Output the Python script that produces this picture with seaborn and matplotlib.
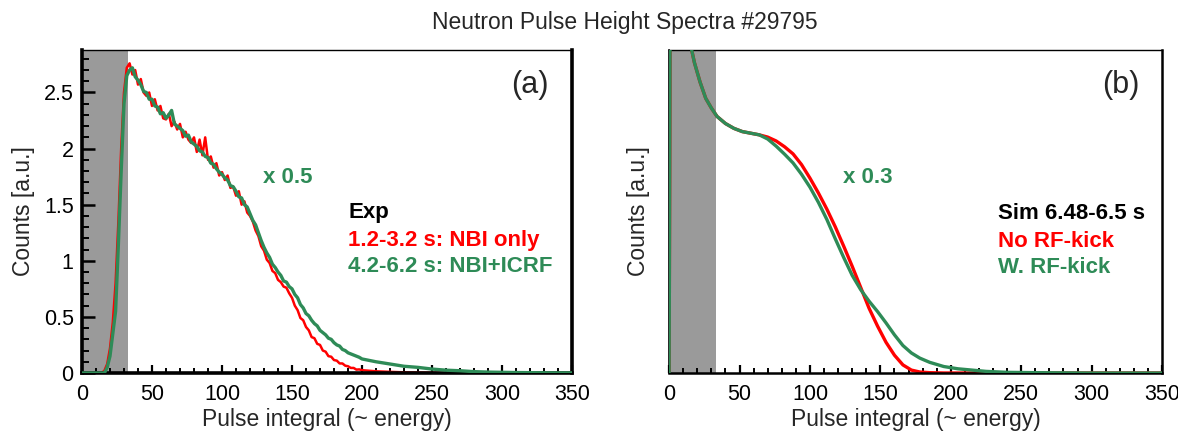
import numpy as np
import pandas as pd
import matplotlib
matplotlib.use("Agg")
import matplotlib.pyplot as plt
from matplotlib.ticker import MultipleLocator
import seaborn as sns

# ---- data ------------------------------------------------------------------
# (a) measured spectra, x grid: 0..198 step 2, then 200..350 step 10
exp_x = list(range(0, 200, 2)) + list(range(200, 351, 10))

nbi_only = [0, 0, 0, 0, 0, 0, 0, 0, 0.02, 0.08, 0.22, 0.45, 0.8, 1.35, 2.0, 2.5, 2.72, 2.76,
            2.66, 2.7, 2.57, 2.62, 2.5, 2.47, 2.5, 2.38, 2.44, 2.34, 2.38, 2.27, 2.26, 2.31,
            2.2, 2.24, 2.17, 2.22, 2.1, 2.15, 2.08, 2.05, 2.1, 1.97, 2.08, 1.94, 2.1, 1.9, 1.93,
            1.83, 1.87, 1.76, 1.79, 1.72, 1.76, 1.65, 1.66, 1.58, 1.62, 1.5, 1.53, 1.43, 1.4,
            1.35, 1.27, 1.22, 1.13, 1.09, 1.01, 0.98, 0.91, 0.89, 0.83, 0.81, 0.77, 0.76, 0.71,
            0.67, 0.6, 0.56, 0.49, 0.47, 0.41, 0.38, 0.32, 0.31, 0.26, 0.25, 0.2, 0.19, 0.15,
            0.145, 0.115, 0.11, 0.085, 0.085, 0.065, 0.06, 0.045, 0.045, 0.03, 0.032,
            0.025, 0.015, 0.01, 0.006, 0.004, 0.002, 0.001, 0.001, 0.001, 0, 0, 0, 0, 0, 0, 0]

nbi_icrf = [0, 0, 0, 0, 0, 0, 0, 0, 0, 0.05, 0.15, 0.35, 0.55, 1.15, 1.8, 2.4, 2.65, 2.7,
            2.72, 2.64, 2.61, 2.57, 2.51, 2.5, 2.44, 2.44, 2.38, 2.37, 2.31, 2.32, 2.27, 2.3,
            2.34, 2.22, 2.2, 2.18, 2.16, 2.11, 2.12, 2.06, 2.04, 2.02, 1.98, 1.97, 1.93, 1.92,
            1.87, 1.86, 1.82, 1.79, 1.77, 1.74, 1.72, 1.67, 1.66, 1.62, 1.57, 1.56, 1.5, 1.48,
            1.42, 1.36, 1.32, 1.25, 1.18, 1.12, 1.07, 1.03, 0.97, 0.94, 0.9, 0.87, 0.82, 0.81,
            0.77, 0.75, 0.7, 0.67, 0.61, 0.58, 0.53, 0.51, 0.47, 0.44, 0.42, 0.38, 0.36, 0.34,
            0.31, 0.3, 0.27, 0.25, 0.24, 0.21, 0.2, 0.18, 0.17, 0.16, 0.15, 0.14,
            0.125, 0.1, 0.08, 0.06, 0.05, 0.035, 0.025, 0.02, 0.012, 0.008, 0.006, 0.004, 0.003,
            0.002, 0.001, 0.001]

# (b) simulated spectra (arbitrary units, axis 0..1)
sim_x = [0, 1, 5, 10, 15, 18, 22, 26, 30, 34, 40, 46, 52, 58, 64, 70, 76, 82, 88, 94, 100,
         106, 112, 118, 124, 130, 136, 142, 148, 154, 160, 166, 172, 178, 185, 195, 205, 215,
         225, 240, 260, 300, 350]
no_rf_kick = [0, 1.5, 1.4, 1.2, 1.02, 0.96, 0.9, 0.85, 0.82, 0.794, 0.772, 0.757, 0.747, 0.742,
              0.737, 0.73, 0.718, 0.7, 0.678, 0.645, 0.603, 0.557, 0.507, 0.452, 0.392, 0.33,
              0.265, 0.2, 0.145, 0.095, 0.055, 0.025, 0.009, 0.003, 0.001, 0, 0, 0, 0, 0, 0, 0, 0]
w_rf_kick = [0, 1.5, 1.4, 1.2, 1.02, 0.96, 0.9, 0.85, 0.82, 0.794, 0.772, 0.757, 0.747, 0.742,
             0.737, 0.724, 0.702, 0.677, 0.65, 0.615, 0.575, 0.528, 0.475, 0.415, 0.357, 0.302,
             0.258, 0.222, 0.19, 0.155, 0.118, 0.085, 0.062, 0.046, 0.033, 0.02, 0.013, 0.009,
             0.005, 0.002, 0.001, 0, 0]

y_ticks_a = [0, 0.5, 1, 1.5, 2, 2.5]
y_ticklabels_a = ["0", "0.5", "1", "1.5", "2", "2.5"]
x_ticks = [0, 50, 100, 150, 200, 250, 300, 350]
cut_off = 33  # grey shaded threshold region

RED = "#ff0000"
GREEN = "#2e8b57"
GREY = "#9a9a9a"

exp_df = pd.DataFrame({"x": exp_x, "NBI only": nbi_only, "NBI+ICRF": nbi_icrf})
sim_df = pd.DataFrame({"x": sim_x, "No RF-kick": no_rf_kick, "W. RF-kick": w_rf_kick})

# ---- style -----------------------------------------------------------------
sns.set_theme(style="ticks")
plt.rcParams["font.family"] = ["Liberation Sans", "DejaVu Sans"]

fig = plt.figure(figsize=(11.78, 4.32), dpi=100)
ax1 = fig.add_axes([0.0696, 0.1366, 0.416, 0.748])
ax2 = fig.add_axes([0.568, 0.1366, 0.4185, 0.748])

fig.text(0.53, 0.949, "Neutron Pulse Height Spectra #29795", ha="center", va="center",
         fontsize=16.5)

# ---- (a) experiment --------------------------------------------------------
ax1.axvspan(0, cut_off, color=GREY, lw=0, zorder=0)
sns.lineplot(data=exp_df, x="x", y="NBI only", color=RED, lw=1.8, ax=ax1, zorder=2)
sns.lineplot(data=exp_df, x="x", y="NBI+ICRF", color=GREEN, lw=2.4, ax=ax1, zorder=3)
ax1.set_xlim(0, 350)
ax1.set_ylim(0, 2.88)
ax1.set_yticks(y_ticks_a)
ax1.set_yticklabels(y_ticklabels_a)
ax1.yaxis.set_minor_locator(MultipleLocator(0.1))
ax1.set_ylabel("Counts [a.u.]", fontsize=16.5)

ax1.text(0.953, 0.89, "(a)", transform=ax1.transAxes, ha="right", va="center", fontsize=22)
ax1.text(0.369, 0.588, "x 0.5", transform=ax1.transAxes, color=GREEN, fontsize=16,
         fontweight="bold")
ax1.text(0.543, 0.48, "Exp", transform=ax1.transAxes, color="black", fontsize=16,
         fontweight="bold")
ax1.text(0.543, 0.393, "1.2-3.2 s: NBI only", transform=ax1.transAxes, color=RED, fontsize=16,
         fontweight="bold")
ax1.text(0.543, 0.313, "4.2-6.2 s: NBI+ICRF", transform=ax1.transAxes, color=GREEN,
         fontsize=16, fontweight="bold")

# ---- (b) simulation --------------------------------------------------------
ax2.axvspan(0, cut_off, color=GREY, lw=0, zorder=0)
sns.lineplot(data=sim_df, x="x", y="No RF-kick", color=RED, lw=2.4, ax=ax2, zorder=2)
sns.lineplot(data=sim_df, x="x", y="W. RF-kick", color=GREEN, lw=2.4, ax=ax2, zorder=3)
ax2.set_xlim(0, 350)
ax2.set_ylim(0, 1)
ax2.set_yticks([])
ax2.set_ylabel("Counts [a.u.]", fontsize=16.5)

ax2.text(0.955, 0.89, "(b)", transform=ax2.transAxes, ha="right", va="center", fontsize=22)
ax2.text(0.353, 0.588, "x 0.3", transform=ax2.transAxes, color=GREEN, fontsize=16,
         fontweight="bold")
ax2.text(0.667, 0.477, "Sim 6.48-6.5 s", transform=ax2.transAxes, color="black", fontsize=16,
         fontweight="bold")
ax2.text(0.667, 0.39, "No RF-kick", transform=ax2.transAxes, color=RED, fontsize=16,
         fontweight="bold")
ax2.text(0.667, 0.31, "W. RF-kick", transform=ax2.transAxes, color=GREEN, fontsize=16,
         fontweight="bold")

# ---- shared axis cosmetics -------------------------------------------------
for ax, thick in ((ax1, 2.6), (ax2, 1.8)):
    ax.set_xticks(x_ticks)
    ax.xaxis.set_minor_locator(MultipleLocator(10))
    ax.set_xlabel("Pulse integral (~ energy)", fontsize=16.5, labelpad=2)
    ax.tick_params(axis="both", which="both", direction="in", labelsize=15.5, colors="black")
    ax.tick_params(axis="x", which="major", length=6, width=1.6, pad=8)
    ax.tick_params(axis="x", which="minor", length=3.5, width=1.4)
    ax.tick_params(axis="y", which="major", length=9, width=1.8, pad=6)
    ax.tick_params(axis="y", which="minor", length=5, width=1.4)
    for side in ("left", "bottom", "right"):
        ax.spines[side].set_linewidth(thick)
        ax.spines[side].set_color("black")
    ax.spines["top"].set_linewidth(1.0)
    ax.spines["top"].set_color("black")
    ax.set_facecolor("white")

ax2.spines["left"].set_linewidth(1.2)
ax1.yaxis.labelpad = 6
ax2.yaxis.labelpad = 14

fig.savefig("out.png", dpi=100, facecolor="white")
